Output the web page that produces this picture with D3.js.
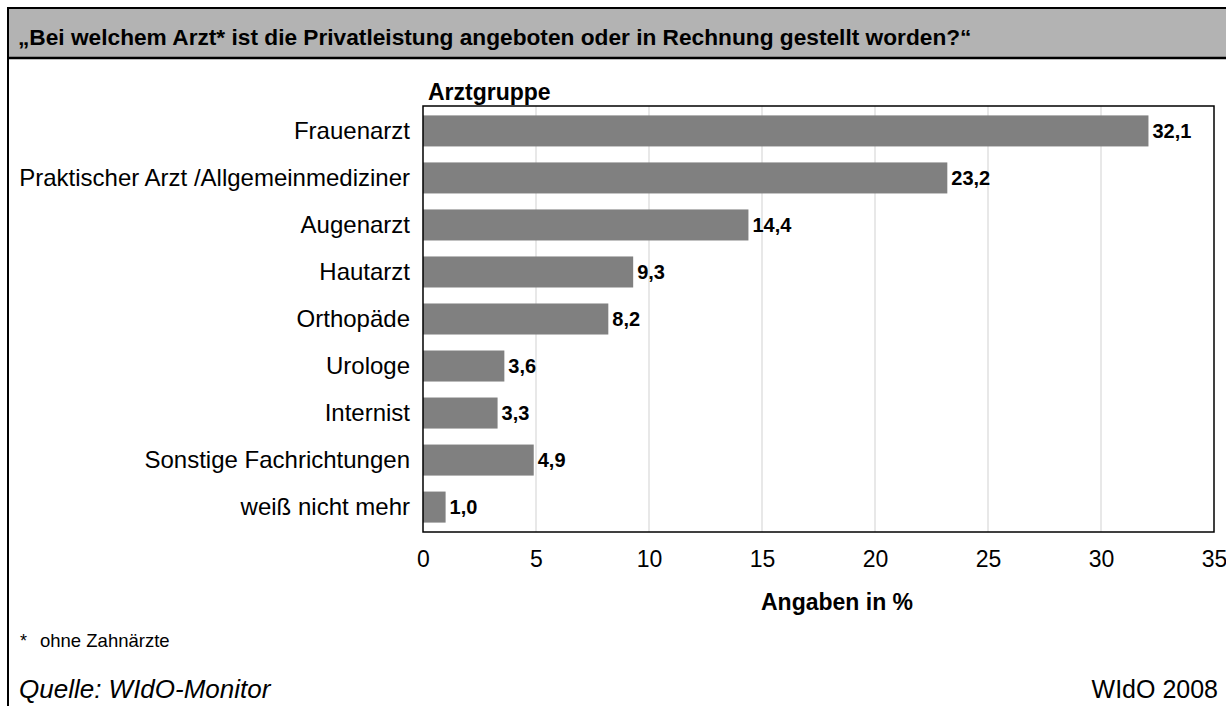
<!DOCTYPE html>
<html><head><meta charset="utf-8">
<script src="https://cdn.jsdelivr.net/npm/d3@7"></script>
<style>body{margin:0;background:#fff;} text{font-family:"Liberation Sans",Arial,sans-serif;}</style>
</head><body>
<svg id="c" width="1226" height="706"></svg>
<script>
const categories = ["Frauenarzt","Praktischer Arzt /Allgemeinmediziner","Augenarzt","Hautarzt","Orthopäde","Urologe","Internist","Sonstige Fachrichtungen","weiß nicht mehr"];
const values = [32.1,23.2,14.4,9.3,8.2,3.6,3.3,4.9,1.0];
const valueLabels = ["32,1","23,2","14,4","9,3","8,2","3,6","3,3","4,9","1,0"];
const ticks = [0,5,10,15,20,25,30,35];
const title = "„Bei welchem Arzt* ist die Privatleistung angeboten oder in Rechnung gestellt worden?“";

const svg = d3.select("#c");
// frame & title band
svg.append("rect").attr("x",8).attr("y",8).attr("width",1226).attr("height",50).attr("fill","#b3b3b3");
svg.append("line").attr("x1",8).attr("x2",1226).attr("y1",8).attr("y2",8).attr("stroke","#000").attr("stroke-width",2);
svg.append("line").attr("x1",8).attr("x2",1226).attr("y1",58).attr("y2",58).attr("stroke","#000").attr("stroke-width",2.5);
svg.append("line").attr("x1",8).attr("x2",8).attr("y1",7).attr("y2",706).attr("stroke","#000").attr("stroke-width",2);
svg.append("text").attr("x",18).attr("y",45).attr("font-size",22.7).attr("font-weight","bold").text(title);

const x0=423, x1=1214, y0=106, y1=532;
const x = d3.scaleLinear().domain([0,35]).range([x0,x1]);
const y = d3.scaleBand().domain(categories).range([y0,y1]).paddingInner(0.34).paddingOuter(0.2);

// grid
svg.append("g").selectAll("line").data(ticks.slice(1,-1)).join("line")
  .attr("x1",d=>x(d)).attr("x2",d=>x(d)).attr("y1",y0).attr("y2",y1)
  .attr("stroke","#e0e0e0").attr("stroke-width",1.5);

// bars
svg.append("g").selectAll("rect").data(values).join("rect")
  .attr("x",x(0)).attr("y",(d,i)=>y(categories[i])).attr("width",d=>x(d)-x(0)).attr("height",y.bandwidth())
  .attr("fill","#808080");

// value labels
svg.append("g").selectAll("text").data(values).join("text")
  .attr("x",d=>x(d)+4).attr("y",(d,i)=>y(categories[i])+y.bandwidth()/2).attr("dy","0.35em")
  .attr("font-size",20).attr("font-weight","bold").text((d,i)=>valueLabels[i]);

// plot border
svg.append("rect").attr("x",x0).attr("y",y0).attr("width",x1-x0).attr("height",y1-y0)
  .attr("fill","none").attr("stroke","#000").attr("stroke-width",1.5);

// category axis labels
const ya = svg.append("g").attr("transform",`translate(${x0},0)`).call(d3.axisLeft(y).tickSize(0).tickPadding(13));
ya.select(".domain").remove();
ya.selectAll("text").attr("font-size",24).attr("font-family","Liberation Sans, Arial, sans-serif").attr("fill","#000");

// x axis
const xa = svg.append("g").attr("transform",`translate(0,${y1})`).call(d3.axisBottom(x).tickValues(ticks).tickSize(0).tickPadding(19));
xa.select(".domain").remove();
xa.selectAll("text").attr("font-size",23).attr("font-family","Liberation Sans, Arial, sans-serif").attr("fill","#000");

svg.append("text").attr("x",428).attr("y",100).attr("font-size",23).attr("font-weight","bold").text("Arztgruppe");
svg.append("text").attr("x",837).attr("y",610).attr("text-anchor","middle").attr("font-size",23).attr("font-weight","bold").text("Angaben in %");
svg.append("text").attr("x",20).attr("y",647).attr("font-size",18).text("*");
svg.append("text").attr("x",40).attr("y",647).attr("font-size",18.5).text("ohne Zahnärzte");
svg.append("text").attr("x",19).attr("y",698).attr("font-size",26).attr("font-style","italic").text("Quelle: WIdO-Monitor");
svg.append("text").attr("x",1218).attr("y",698).attr("text-anchor","end").attr("font-size",25).text("WIdO 2008");
</script>
</body></html>
